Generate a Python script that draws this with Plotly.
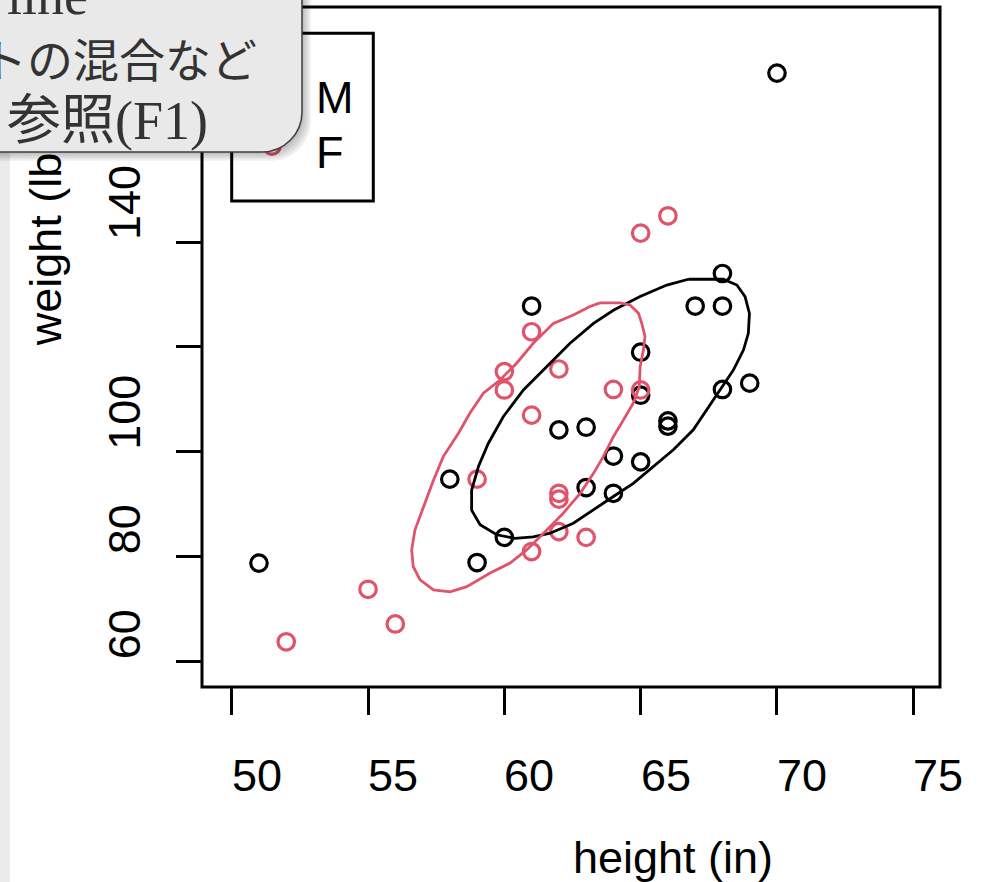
import plotly.graph_objects as go

# Height (in) and weight (lb) of each person, split by sex
male_height = [70, 51, 61, 67, 68, 68, 65, 65, 69, 68, 66, 66, 62, 63, 64, 65, 58, 63, 64, 60, 59]
male_weight = [172.2, 78.8, 127.8, 127.8, 127.8, 134.0, 119.0, 110.8, 113.1, 111.9, 105.9,
               104.9, 104.2, 104.7, 99.2, 98.1, 94.8, 93.2, 92.1, 83.7, 78.9]
female_height = [66, 65, 61, 60, 60, 62, 64, 65, 61, 59, 62, 62, 62, 63, 61, 55, 56, 52]
female_weight = [145.0, 141.7, 122.9, 115.3, 111.8, 115.8, 111.9, 111.8, 107.0, 94.8,
                 92.1, 91.0, 84.8, 83.7, 81.0, 73.8, 67.2, 63.8]

# Outline of each group's data ellipse
male_ellipse_height = [66.75, 68.03, 68.53, 68.83, 68.99, 68.95, 68.77, 68.40, 67.91, 67.42,
                       66.93, 66.20, 65.47, 64.73, 64.00, 63.27, 62.53, 61.68, 61.06, 60.39,
                       59.72, 59.11, 58.80, 58.80, 59.05, 59.41, 59.96, 60.70, 61.56, 62.41,
                       63.27, 64.00, 64.98, 65.96, 66.75]
male_ellipse_weight = [132.9, 132.9, 131.8, 129.6, 126.4, 122.6, 119.4, 115.6, 111.8, 108.0,
                       104.2, 100.4, 97.2, 94.0, 91.5, 88.9, 86.4, 84.5, 83.8, 83.5,
                       84.2, 86.1, 88.9, 92.7, 97.2, 101.6, 106.7, 111.8, 116.2, 120.7,
                       124.5, 127.0, 129.6, 131.8, 132.9]
female_ellipse_height = [63.51, 64.24, 64.61, 64.92, 65.04, 65.16, 65.10, 64.98, 64.95, 64.73,
                         64.37, 64.00, 63.63, 63.27, 62.78, 62.16, 61.56, 60.82, 60.21, 59.48,
                         58.62, 58.01, 57.40, 56.91, 56.66, 56.60, 56.72, 57.03, 57.40, 57.76,
                         58.31, 58.74, 59.23, 59.84, 60.45, 61.06, 61.80, 62.53, 63.14, 63.51]
female_ellipse_weight = [128.4, 128.4, 128.0, 126.4, 124.5, 122.0, 119.4, 116.2, 112.4, 109.3,
                         106.1, 102.9, 99.1, 95.9, 92.1, 88.3, 85.1, 81.3, 78.8, 76.9,
                         74.3, 73.3, 73.7, 75.6, 78.1, 81.3, 85.1, 89.6, 94.6, 99.1,
                         103.5, 107.4, 111.2, 113.7, 116.9, 120.7, 124.5, 126.1, 127.7, 128.4]

x_ticks = [50, 55, 60, 65, 70, 75]
y_ticks = [60, 80, 100, 120, 140]
y_tick_labels = ["60", "80", "100", "", "140"]
legend_labels = ["M", "F"]
x_title = "height (in)"
y_title = "weight (lb)"
tip_lines = ["line", "トの混合など", "参照(F1)"]

BLACK = "#000000"
PINK = "#DF536B"

# Page geometry (pixels) and helpers converting page pixels to paper units
W, H = 986, 882
ML, MR, MT, MB = 202, 46, 7, 195
PW, PH = W - ML - MR, H - MT - MB


def px(x):
    return (x - ML) / PW


def py(y):
    return (H - MB - y) / PH


AXFONT = dict(family="Liberation Sans, Arial, sans-serif", size=45, color=BLACK)
TIP_FAMILY = "Liberation Serif, Noto Sans CJK JP, serif"
LW = 3.0

fig = go.Figure()

marker_style = dict(symbol="circle-open", size=16.5, line=dict(width=3.2))
fig.add_trace(go.Scatter(x=male_height, y=male_weight, mode="markers", name="M",
                         marker=dict(color=BLACK, **marker_style), showlegend=False))
fig.add_trace(go.Scatter(x=female_height, y=female_weight, mode="markers", name="F",
                         marker=dict(color=PINK, **marker_style), showlegend=False))
fig.add_trace(go.Scatter(x=male_ellipse_height, y=male_ellipse_weight, mode="lines",
                         line=dict(color=BLACK, width=2.8), showlegend=False, hoverinfo="skip"))
fig.add_trace(go.Scatter(x=female_ellipse_height, y=female_ellipse_weight, mode="lines",
                         line=dict(color=PINK, width=2.8), showlegend=False, hoverinfo="skip"))
# carrier for the y title axis (kept under the tooltip layer)
fig.add_trace(go.Scatter(x=[], y=[], yaxis="y2", showlegend=False, hoverinfo="skip"))

x_range = [48.91, 75.98]
y_range = [55.18, 184.8]

shapes = []
# left window strip
shapes.append(dict(type="rect", xref="paper", yref="paper", x0=px(-5), x1=px(10),
                   y0=py(H + 5), y1=py(-5), fillcolor="#ebebeb", line=dict(width=0), layer="above"))
# plot frame
shapes.append(dict(type="rect", xref="paper", yref="paper", x0=0, x1=1, y0=0, y1=1,
                   line=dict(color=BLACK, width=LW), fillcolor="rgba(0,0,0,0)", layer="above"))
# legend box and keys
shapes.append(dict(type="rect", xref="paper", yref="paper", x0=px(231.7), x1=px(373.3),
                   y0=py(201), y1=py(33.3), line=dict(color=BLACK, width=LW),
                   fillcolor="rgba(0,0,0,0)", layer="above"))
for key_y, col in zip([91, 146], [BLACK, PINK]):
    shapes.append(dict(type="circle", xref="paper", yref="paper", xsizemode="pixel",
                       ysizemode="pixel", xanchor=px(272), yanchor=py(key_y),
                       x0=-8.3, x1=8.3, y0=-8.3, y1=8.3, line=dict(color=col, width=3.2),
                       layer="above"))


def tip_path(right, bottom, r, left=-40, top=-40):
    k = 0.5523 * r
    pts = [
        f"M {px(left):.5f},{py(top):.5f}",
        f"L {px(right):.5f},{py(top):.5f}",
        f"L {px(right):.5f},{py(bottom - r):.5f}",
        f"C {px(right):.5f},{py(bottom - r + k):.5f} {px(right - r + k):.5f},{py(bottom):.5f} "
        f"{px(right - r):.5f},{py(bottom):.5f}",
        f"L {px(left):.5f},{py(bottom):.5f}",
        "Z",
    ]
    return " ".join(pts)


# tooltip drop shadow, then body
for k in range(1, 5):
    shapes.append(dict(type="path", xref="paper", yref="paper",
                       path=tip_path(302 + 2.2 * k, 152 + 2.2 * k, 40),
                       fillcolor="rgba(0,0,0,0.065)", line=dict(width=0), layer="above"))
shapes.append(dict(type="path", xref="paper", yref="paper", path=tip_path(302, 152, 40),
                   fillcolor="#e9e9e9", line=dict(color="#3c3c3c", width=1.5), layer="above"))

annotations = []
for v in x_ticks:
    annotations.append(dict(x=v, xref="x", y=py(748.5), yref="paper", text=str(v),
                            xanchor="left", yanchor="top", xshift=-2, showarrow=False,
                            font=AXFONT))
for v, lab in zip(y_ticks, y_tick_labels):
    if lab:
        annotations.append(dict(x=px(124.5), xref="paper", y=v, yref="y", text=lab,
                                textangle=-90, xanchor="center", yanchor="bottom",
                                showarrow=False, font=AXFONT))
annotations.append(dict(x=0.5, xref="paper", y=py(830), yref="paper", text=x_title,
                        xanchor="left", yanchor="top", showarrow=False, font=AXFONT))
for lab, top in zip(legend_labels, [70.3, 125.3]):
    annotations.append(dict(x=px(314), xref="paper", y=py(top), yref="paper", text=lab,
                            xanchor="left", yanchor="top", showarrow=False, font=AXFONT))
# tooltip text lines: (text, right edge, box bottom, font size)
for lab, right, bottom, size in zip(tip_lines, [90, 259, 210], [28, 89, 153], [54, 46, 54]):
    annotations.append(dict(x=px(right), xref="paper", y=py(bottom), yref="paper", text=lab,
                            xanchor="right", yanchor="bottom", showarrow=False,
                            font=dict(family=TIP_FAMILY, size=size, color="#333333")))

axis_common = dict(showgrid=False, zeroline=False, showline=False, showticklabels=False,
                   ticks="outside", tickwidth=LW, tickcolor=BLACK)

fig.update_layout(
    width=W, height=H,
    margin=dict(l=ML, r=MR, t=MT, b=MB, pad=0),
    paper_bgcolor="white", plot_bgcolor="white",
    showlegend=False,
    xaxis=dict(range=x_range, tickmode="array", tickvals=x_ticks, ticklen=27, **axis_common),
    yaxis=dict(range=y_range, tickmode="array", tickvals=y_ticks, ticklen=25, **axis_common),
    yaxis2=dict(range=y_range, overlaying="y", anchor="x", side="left",
                tickmode="array", tickvals=[138.8], ticktext=[y_title], tickangle=-90,
                ticks="", ticklabelstandoff=131, showgrid=False, zeroline=False,
                showline=False, tickfont=AXFONT),
    shapes=shapes,
    annotations=annotations,
)

fig.write_html("out.html")
